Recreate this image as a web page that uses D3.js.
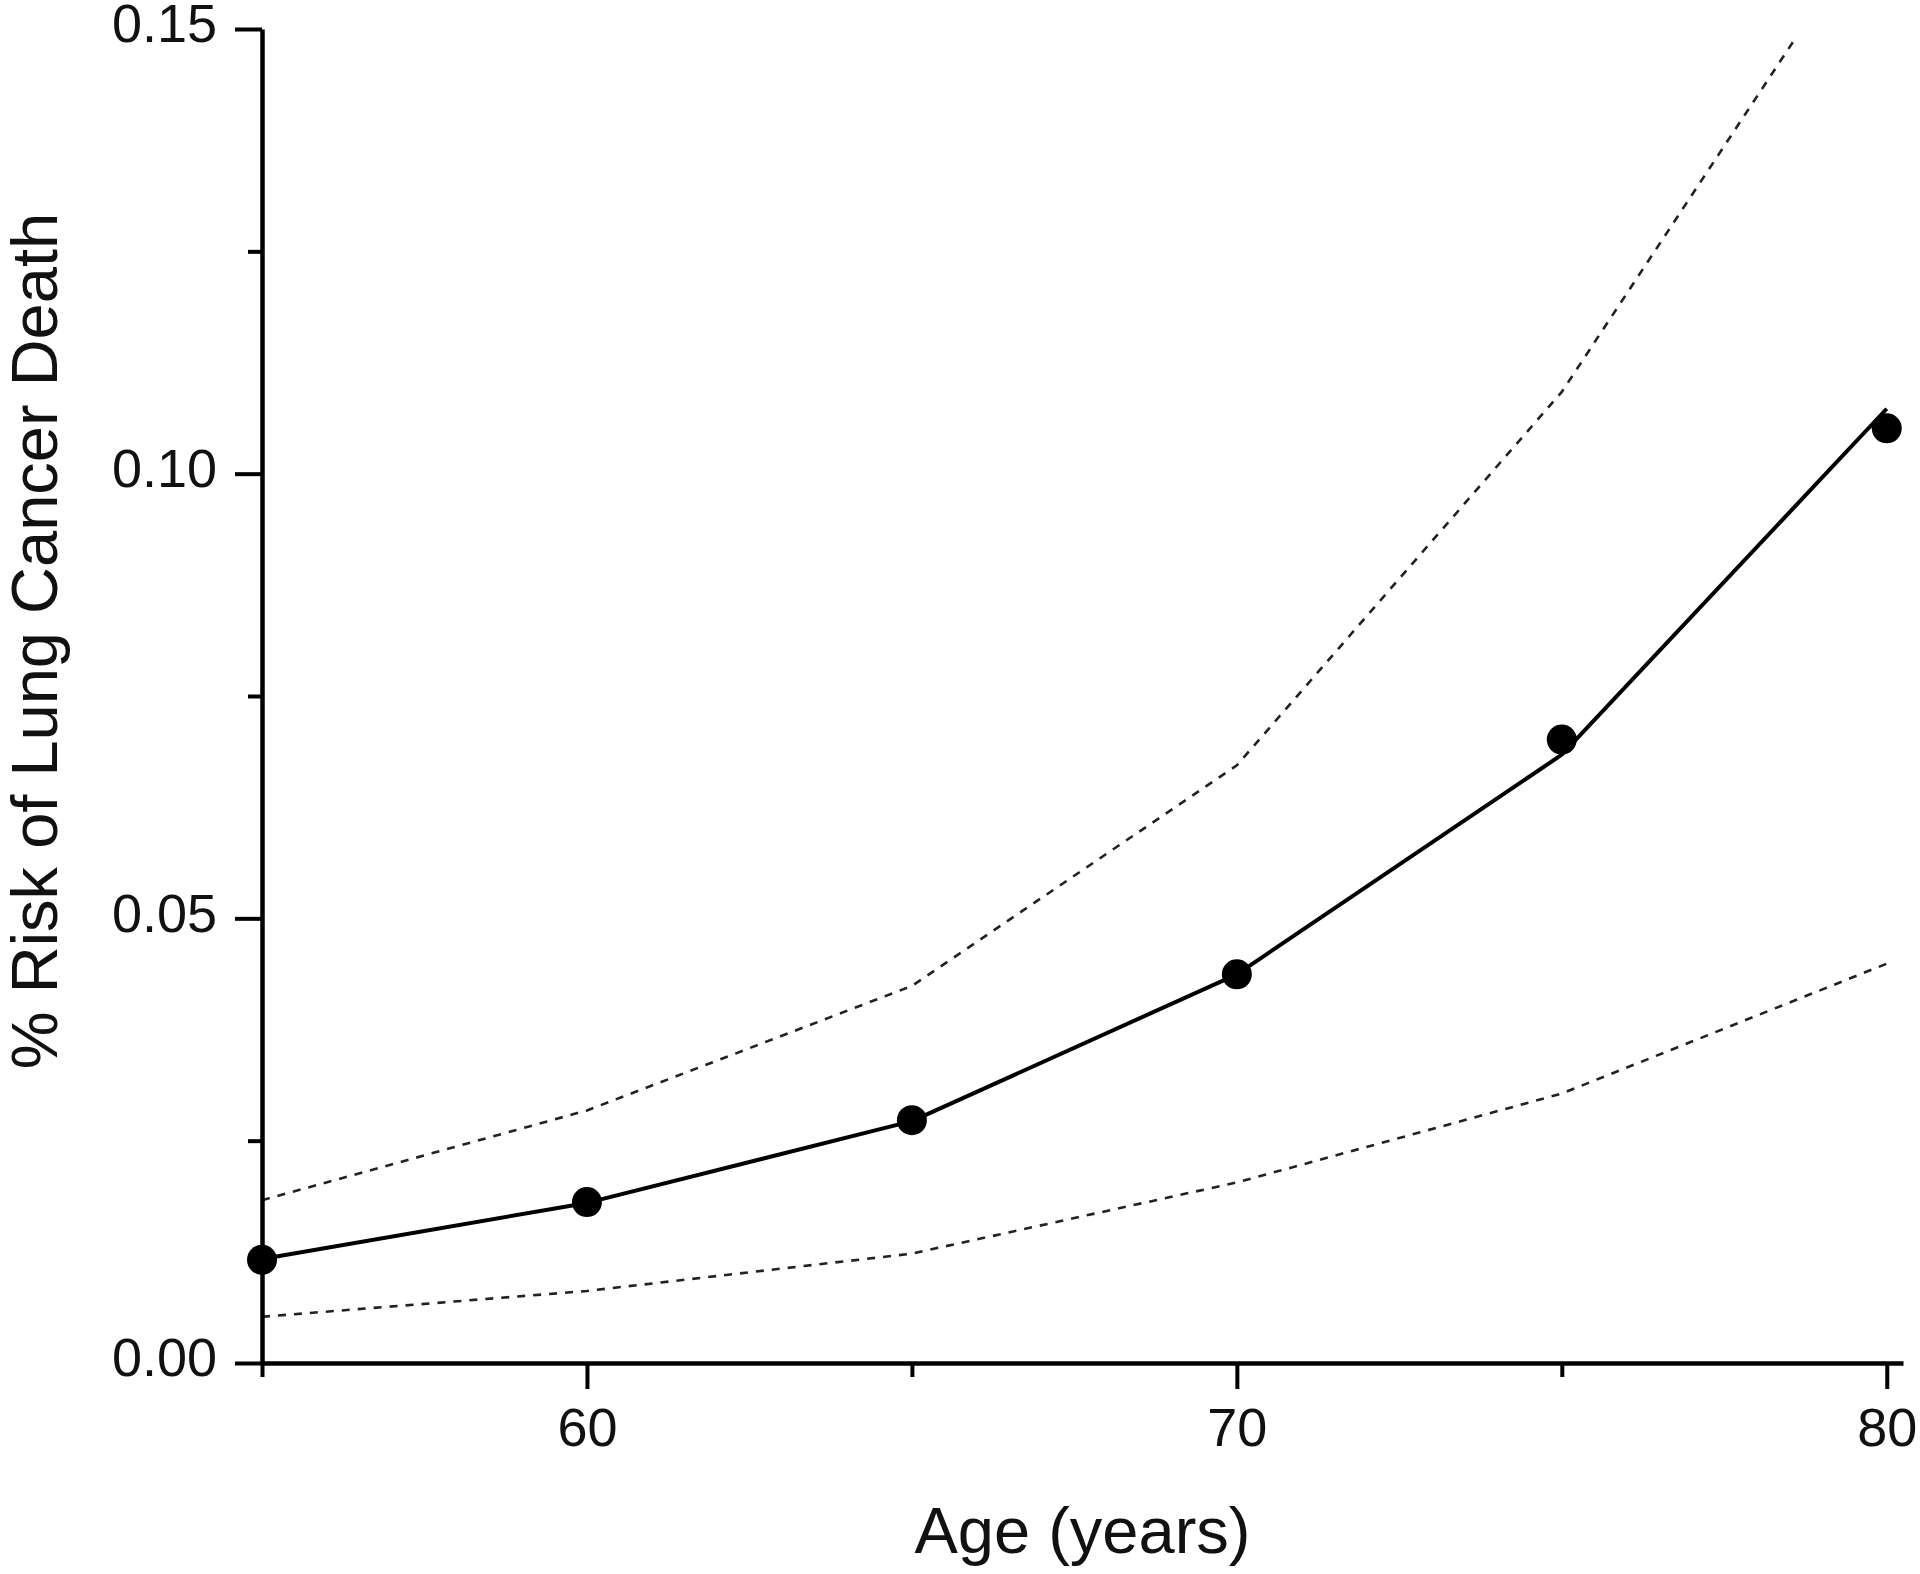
<!DOCTYPE html>
<html>
<head>
<meta charset="utf-8">
<script src="https://cdn.jsdelivr.net/npm/d3@7"></script>
<style>
  html, body { margin: 0; padding: 0; background: #fff; }
  svg { display: block; }
  text { font-family: "Liberation Sans", Arial, sans-serif; fill: #111; }
</style>
</head>
<body>
<svg id="chart" width="1920" height="1574"></svg>
<script>
// ---- Data ----
const ages = [55, 60, 65, 70, 75, 80];
const observed = [0.0116, 0.0181, 0.0273, 0.0437, 0.0701, 0.1051];
const fitted = [0.0117, 0.0180, 0.0272, 0.0437, 0.0684, 0.1073];
const upperCI = [0.0183, 0.0284, 0.0424, 0.0672, 0.1092, 0.1645];
const lowerCI = [0.0052, 0.0081, 0.0123, 0.0203, 0.0303, 0.0449];
const xTickValues = [60, 70, 80];
const xMinorTicks = [55, 65, 75];
const yTickValues = [0.00, 0.05, 0.10, 0.15];
const yMinorTicks = [0.025, 0.075, 0.125];
const xTitle = "Age (years)";
const yTitle = "% Risk of Lung Cancer Death";

(function () {
// ---- Layout ----
const svg = d3.select("#chart");
const mLeft = 262, mRight = 1903, mTop = 29, mBottom = 1363;

const x = d3.scaleLinear().domain([55, 80.25]).range([mLeft, mRight]);
const y = d3.scaleLinear().domain([0, 0.15]).range([mBottom, mTop]);

// clip for data
svg.append("defs").append("clipPath").attr("id", "plotclip")
  .append("rect").attr("x", mLeft).attr("y", y(0.149)).attr("width", mRight - mLeft).attr("height", mBottom - y(0.149));

const plot = svg.append("g").attr("clip-path", "url(#plotclip)");

const line = d3.line().x((d, i) => x(ages[i])).y(d => y(d));

plot.append("path").datum(upperCI).attr("d", line)
  .attr("fill", "none").attr("stroke", "#222").attr("stroke-width", 2.6)
  .attr("stroke-dasharray", "8,8");
plot.append("path").datum(lowerCI).attr("d", line)
  .attr("fill", "none").attr("stroke", "#222").attr("stroke-width", 2.6)
  .attr("stroke-dasharray", "8,8");
svg.append("path").datum(fitted).attr("d", line)
  .attr("fill", "none").attr("stroke", "#000").attr("stroke-width", 4)
  .attr("stroke-linejoin", "round");

svg.append("g").selectAll("circle").data(observed).join("circle")
  .attr("cx", (d, i) => x(ages[i])).attr("cy", d => y(d)).attr("r", 15)
  .attr("fill", "#000");

// ---- Axes ----
const fontSize = 54;
const xAxis = d3.axisBottom(x).tickValues(xTickValues).tickFormat(d3.format("d"))
  .tickSize(26).tickPadding(19).tickSizeOuter(0);
const gx = svg.append("g").attr("transform", `translate(0,${mBottom})`).call(xAxis);
gx.select(".domain").attr("stroke-width", 4.5).attr("stroke", "#000");
gx.selectAll(".tick line").attr("stroke-width", 4).attr("stroke", "#000");
gx.selectAll(".tick text").attr("font-size", fontSize).attr("font-family", "Liberation Sans, Arial, sans-serif").attr("fill", "#111");

const xMinor = d3.axisBottom(x).tickValues(xMinorTicks).tickSize(14).tickFormat("").tickSizeOuter(0);
const gxm = svg.append("g").attr("transform", `translate(0,${mBottom})`).call(xMinor);
gxm.select(".domain").remove();
gxm.selectAll(".tick line").attr("stroke-width", 4).attr("stroke", "#000");

const yAxis = d3.axisLeft(y).tickValues(yTickValues).tickFormat(d3.format(".2f"))
  .tickSize(27).tickPadding(18).tickSizeOuter(0);
const gy = svg.append("g").attr("transform", `translate(${mLeft},0)`).call(yAxis);
gy.select(".domain").attr("stroke-width", 4.5).attr("stroke", "#000");
gy.selectAll(".tick line").attr("stroke-width", 4).attr("stroke", "#000");
gy.selectAll(".tick text").attr("font-size", fontSize).attr("dy", "0.24em")
  .attr("font-family", "Liberation Sans, Arial, sans-serif").attr("fill", "#111");

const yMinor = d3.axisLeft(y).tickValues(yMinorTicks).tickSize(14).tickFormat("").tickSizeOuter(0);
const gym = svg.append("g").attr("transform", `translate(${mLeft},0)`).call(yMinor);
gym.select(".domain").remove();
gym.selectAll(".tick line").attr("stroke-width", 4).attr("stroke", "#000");

// ---- Titles ----
svg.append("text").attr("x", (mLeft + mRight) / 2).attr("y", 1553)
  .attr("text-anchor", "middle").attr("font-size", 65).text(xTitle);

svg.append("text").attr("transform", "translate(57,641) rotate(-90)")
  .attr("text-anchor", "middle").attr("font-size", 65).text(yTitle);
})();
</script>
</body>
</html>
